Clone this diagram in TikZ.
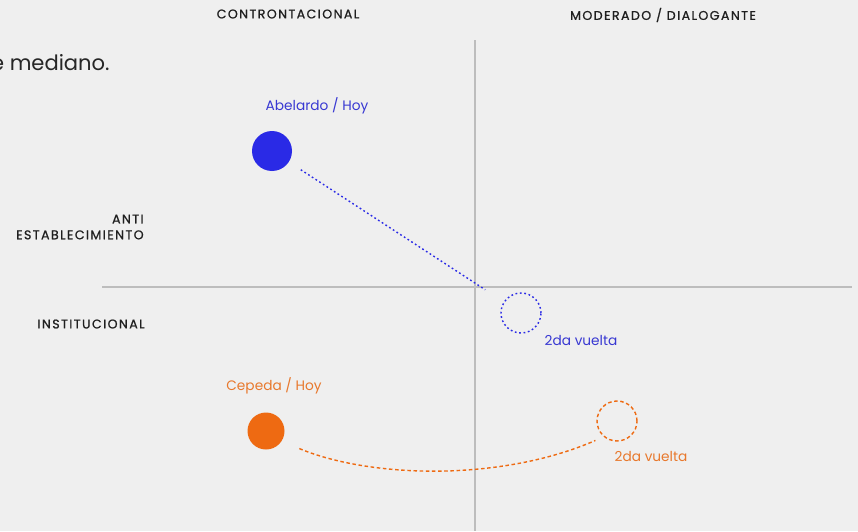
\documentclass[tikz,border=0pt]{standalone}
\usepackage{fontspec}
\setmainfont{Poppins}
\definecolor{bggray}{HTML}{EFEFEF}
\definecolor{axisgray}{HTML}{BDBDBD}
\definecolor{abblue}{HTML}{2A2AE6}
\definecolor{abtext}{HTML}{3838D2}
\definecolor{ceporange}{HTML}{EE6A12}
\definecolor{ceptext}{HTML}{E8782C}

\begin{document}
\begin{tikzpicture}[x=0.02cm,y=-0.02cm,
  every node/.style={inner sep=0pt},
  axis/.style={draw=axisgray,line width=0.7pt},
  axislabel/.style={font=\fontsize{7.2}{9}\selectfont\addfontfeature{LetterSpace=11,FakeBold=0.8},text=black!88},
  spot/.style={circle,minimum size=0.8cm},
  tag/.style={font=\fontsize{7.8}{10}\selectfont},
  abline/.style={draw=abblue,line width=0.8pt,dash pattern=on 1pt off 1.5pt},
  cepline/.style={draw=ceporange,line width=0.8pt,dash pattern=on 2pt off 1.5pt}]
\fill [bggray] (0,0) rectangle (858,531);
\clip (0,0) rectangle (858,531);
% axes
\coordinate (vtop) at (475,40);
\coordinate (vbot) at (475,531);
\coordinate (hleft) at (102,287);
\coordinate (hright) at (852,287);
\draw [axis] (vtop) -- (vbot);
\draw [axis] (hleft) -- (hright);
% axis labels
\node [axislabel] (confr) at (288,14) {CONTRONTACIONAL};
\node [axislabel] (moder) at (663,15) {MODERADO / DIALOGANTE};
\node [axislabel,anchor=east,align=right] (anti) at (144,227) {ANTI\\ESTABLECIMIENTO};
\node [axislabel,anchor=east] (inst) at (145,324) {INSTITUCIONAL};
\node [font=\fontsize{12}{14}\selectfont,text=black!85,anchor=east] (medi) at (110,63) {e mediano.};
% Abelardo
\node [spot,fill=abblue] (abhoy) at (272,151) {};
\node [tag,text=abtext] (abhoylbl) at (317,106) {Abelardo / Hoy};
\node [spot,draw=abblue,line width=0.8pt,dash pattern=on 1pt off 1.5pt] (ab2v) at (521,313) {};
\node [tag,text=abtext] (ab2vlbl) at (581,340) {2da vuelta};
\draw [abline,shorten <=0.28cm,shorten >=0.44cm] (abhoy) -- (ab2v);
% Cepeda
\node [spot,fill=ceporange,minimum size=0.74cm] (cephoy) at (266,431) {};
\node [tag,text=ceptext] (cephoylbl) at (274,386) {Cepeda / Hoy};
\node [spot,draw=ceporange,line width=0.8pt,dash pattern=on 2pt off 1.5pt] (cep2v) at (617,421) {};
\node [tag,text=ceptext] (cep2vlbl) at (651,456) {2da vuelta};
\draw [cepline,shorten <=0.38cm,shorten >=0.18cm] (cephoy.-33) .. controls (370,478) and (500,482) .. (cep2v.-130);
\end{tikzpicture}
\end{document}
